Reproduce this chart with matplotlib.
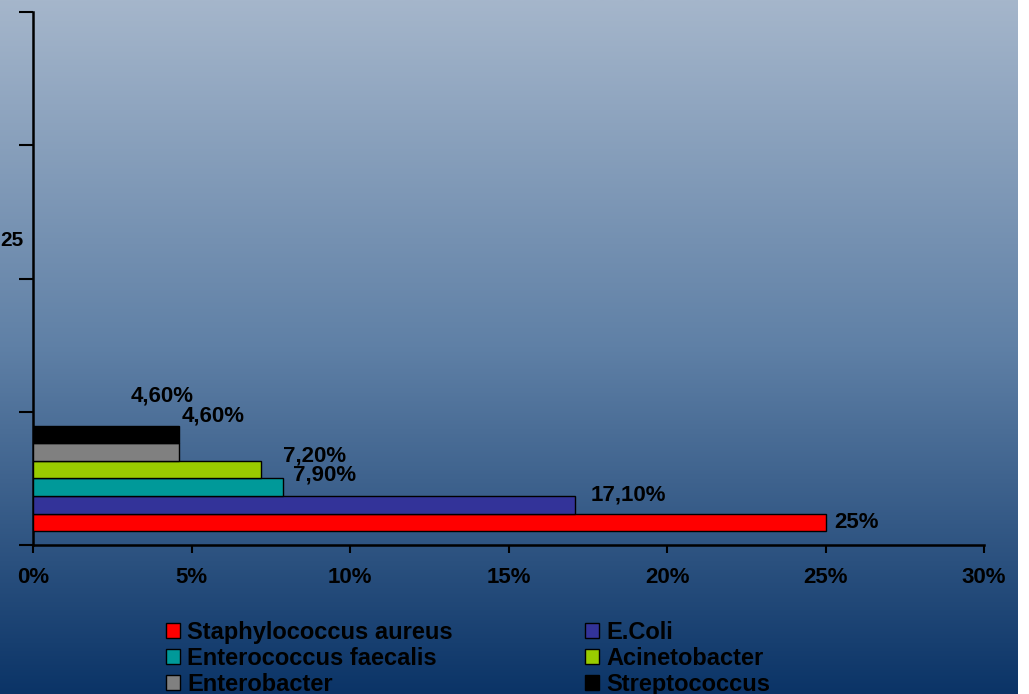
import numpy as np
import matplotlib
matplotlib.use('Agg')
import matplotlib.pyplot as plt
from matplotlib.colors import LinearSegmentedColormap
from matplotlib.patches import Patch

plt.rcParams['font.family'] = ['Liberation Sans', 'DejaVu Sans']
plt.rcParams['font.weight'] = 'bold'

# data
species = ['Staphylococcus aureus', 'E.Coli', 'Enterococcus faecalis',
           'Acinetobacter', 'Enterobacter', 'Streptococcus']
values = [25.0, 17.1, 7.9, 7.2, 4.6, 4.6]
value_labels = ['25%', '17,10%', '7,90%', '7,20%', '4,60%', '4,60%']
colors = ['#FF0000', '#333399', '#009999', '#99CC00', '#808080', '#000000']
x_ticks = [0, 5, 10, 15, 20, 25, 30]
x_ticklabels = ['0%', '5%', '10%', '15%', '20%', '25%', '30%']
# label offsets (points) the way the original sheet placed them
label_offsets = [(6, 0), (11, 7), (7, 9), (16, 10), (2, 26), (-35, 28)]

fig = plt.figure(figsize=(10.29, 6.94), dpi=100)

# gradient background
bg = fig.add_axes([0, 0, 1018 / 1029, 1], zorder=-10)
cmap = LinearSegmentedColormap.from_list('bg', ['#A5B6CB', '#5F80A6', '#0B3467'])
grad = np.linspace(0, 1, 256).reshape(-1, 1)
bg.imshow(grad, aspect='auto', cmap=cmap, extent=[0, 1, 0, 1], origin='upper')
bg.axis('off')

ax = fig.add_axes([33 / 1029, 1 - 545 / 694, (984 - 33) / 1029, (545 - 12) / 694])
ax.set_facecolor('none')

h = 0.132
for i, (v, c) in enumerate(zip(values, colors)):
    y = 0.5 + (i - 2.5) * h
    ax.barh(y, v, height=h, color=c, edgecolor='black', linewidth=1, zorder=3)
    dx, dy = label_offsets[i]
    ax.annotate(value_labels[i], xy=(v, y), xytext=(dx, dy), textcoords='offset points',
                ha='left', va='center', fontsize=16, fontweight='bold', color='black')

ax.set_xlim(0, 30)
ax.set_ylim(0, 4)
ax.set_xticks(x_ticks)
ax.set_xticklabels(x_ticklabels, fontsize=16, fontweight='bold')
ax.set_yticks([0, 1, 2, 3, 4])
ax.set_yticklabels([])
ax.tick_params(axis='x', direction='out', length=6, width=1.5, pad=10)
ax.tick_params(axis='y', direction='out', length=10, width=1.5)
for s in ['top', 'right']:
    ax.spines[s].set_visible(False)
for s in ['left', 'bottom']:
    ax.spines[s].set_linewidth(1.8)

fig.text(0, 1 - 241 / 694, '25', ha='left', va='center', fontsize=15, fontweight='bold')

handles = [Patch(facecolor=c, edgecolor='black', linewidth=1) for c in colors]
order = [0, 2, 4, 1, 3, 5]
fig.legend([handles[i] for i in order], [species[i] for i in order], ncol=2,
           loc='upper left', bbox_to_anchor=(166 / 1029, 1 - 621 / 694),
           frameon=False, fontsize=17, handlelength=0.6, handleheight=0.6,
           handletextpad=0.3, columnspacing=5.6, labelspacing=0.12,
           borderpad=0, borderaxespad=0)

fig.savefig('out.png', dpi=100)
